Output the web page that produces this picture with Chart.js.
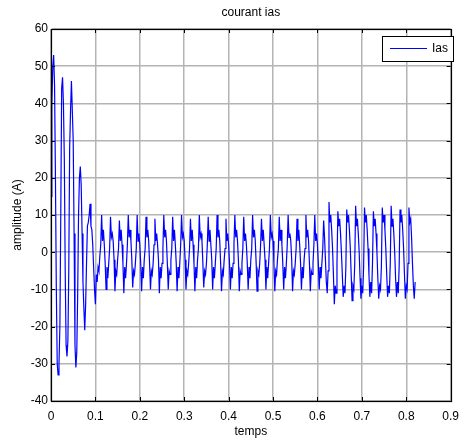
<!DOCTYPE html>
<html>
<head>
<meta charset="utf-8">
<script src="https://cdn.jsdelivr.net/npm/chart.js@4"></script>
<style>
html,body{margin:0;padding:0;background:#fff;}
canvas{display:block;}
</style>
</head>
<body>
<canvas id="c" width="467" height="443"></canvas>
<script>
// sampling step of the recorded current (s)
const sampleStep = 0.002;

// start-up transient, t = 0.000 .. 0.100
const transient = [
  15, 40, 50, 53, 45, 20, -10, -30, -33, -30,
  -20, 10, 44, 47, 40, 25, -5, -25, -28, -24,
  -5, 28, 38, 46, 38, 30, 5, -25, -31, -27,
  -12, 10, 20, 23, 18, 5, -8, -15, -21, -14,
  -3, 7, 8, 10, 13, 7, 6, 2, -4, -10, -14
];

// steady operation, t = 0.102 .. 0.612
const steady = [
  -6, -8, -4, -5, -1, 2,
  10, 3, 6, 2, -3, -10, -4, -7, -3, 1,
  9.5, 4, 5, 3, -2, -10.5, -5, -6, -2, 1,
  8.5, 3, 6, 2, -3, -11, -4, -7, -3, 2,
  10, 4, 6, 3, -2, -9.5, -5, -6, -3, 1,
  10, 3, 5, 2, -3, -10.5, -4, -7, -2, 1,
  9.5, 4, 6, 3, -3, -10, -5, -6, -3, 2,
  9, 3, 5, 2, -2, -11, -4, -7, -3, 1,
  10, 4, 6, 3, -3, -10, -5, -6, -2, 1,
  9.5, 3, 6, 2, -3, -10.5, -4, -7, -3, 2,
  10, 4, 5, 3, -2, -10, -5, -6, -3, 1,
  9, 3, 6, 2, -3, -10.5, -4, -7, -2, 1,
  10, 4, 5, 3, -3, -9.5, -5, -6, -3, 2,
  9.5, 3, 6, 2, -2, -10, -4, -7, -3, 1,
  10, 4, 6, 3, -3, -10.5, -5, -6, -2, 1,
  9, 3, 5, 2, -3, -10, -4, -7, -3, 2,
  10, 4, 6, 3, -2, -10.5, -5, -6, -3, 1,
  9.5, 3, 5, 2, -3, -10, -4, -7, -2, 1,
  10, 4, 6, 3, -3, -10.5, -5, -6, -3, 2,
  9, 3, 6, 2, -2, -10, -4, -7, -3, 1,
  10, 4, 5, 3, -3, -10.5, -5, -6, -2, 1,
  9.5, 3, 6, 2, -3, -10, -4, -7, -3, 2,
  10, 4, 5, 3, -2, -10.5, -5, -6, -3, 1,
  9, 3, 6, 2, -3, -10, -4, -7, -2, 1,
  10, 4, 6, 3, -3, -10.5, -5, -6, -3, 2,
  10, 3, 5, 2, -3, -10, -4, -7, -3, 1
];

// loaded operation, t = 0.614 .. 0.820
const loaded = [
  8.5, 4, -2, -8, -11, -5,
  13.5, 8, 10, 6, 1, -6, -14, -9, -11, -3,
  11, 7, 9, 5, 0, -6, -12, -9, -11, -4,
  11.5, 8, 10, 6, 1, -6, -13, -9, -10, -3,
  12.5, 7, 9, 5, 0, -7, -12.5, -9, -11, -4,
  12, 8, 10, 6, 1, -6, -12, -8, -11, -3,
  11, 7, 9, 5, 0, -7, -12.5, -9, -10, -4,
  12, 8, 10, 6, 1, -6, -12, -9, -11, -3,
  12.5, 7, 9, 5, 0, -7, -12, -8, -11, -4,
  11.5, 8, 10, 6, 1, -6, -12.5, -9, -10, -3,
  12, 8, 9, 4, -3, -9, -12.5, -8
];

const xTicks = [0, 0.1, 0.2, 0.3, 0.4, 0.5, 0.6, 0.7, 0.8, 0.9];
const yTicks = [-40, -30, -20, -10, 0, 10, 20, 30, 40, 50, 60];
const seriesName = 'Ias';
const titleText = 'courant ias';
const xTitle = 'temps';
const yTitle = 'amplitude (A)';

const values = transient.concat(steady, loaded);
const points = values.map((v, i) => ({ x: Math.round(i * sampleStep * 1000) / 1000, y: v }));

const FONT = 'Arial, "Liberation Sans", sans-serif';

const boxPlugin = {
  id: 'matlabBox',
  afterDraw(chart) {
    const ctx = chart.ctx;
    const a = chart.chartArea;
    const xs = chart.scales.x, ys = chart.scales.y;
    ctx.save();
    ctx.strokeStyle = '#000';
    ctx.lineWidth = 1;
    // ticks inside
    ctx.beginPath();
    xTicks.forEach(t => {
      const px = Math.round(xs.getPixelForValue(t)) + 0.5;
      ctx.moveTo(px, a.bottom); ctx.lineTo(px, a.bottom - 4);
      ctx.moveTo(px, a.top); ctx.lineTo(px, a.top + 4);
    });
    yTicks.forEach(t => {
      const py = Math.round(ys.getPixelForValue(t)) + 0.5;
      ctx.moveTo(a.left, py); ctx.lineTo(a.left + 4, py);
      ctx.moveTo(a.right, py); ctx.lineTo(a.right - 4, py);
    });
    ctx.stroke();
    // full box
    ctx.lineWidth = 1.2;
    ctx.strokeRect(Math.round(a.left) + 0.5, Math.round(a.top) + 0.5,
      Math.round(a.right - a.left), Math.round(a.bottom - a.top));
    // title
    ctx.fillStyle = '#000';
    ctx.font = '12px ' + FONT;
    ctx.textAlign = 'center';
    ctx.textBaseline = 'middle';
    ctx.fillText(titleText, (a.left + a.right) / 2, 13);
    // legend
    const lx = 382, ly = 36, lw = 71, lh = 25;
    ctx.fillStyle = '#fff';
    ctx.fillRect(lx, ly, lw, lh);
    ctx.strokeStyle = '#000';
    ctx.lineWidth = 1;
    ctx.strokeRect(lx + 0.5, ly + 0.5, lw, lh);
    ctx.strokeStyle = '#0000ff';
    ctx.beginPath();
    ctx.moveTo(390, ly + 12.5); ctx.lineTo(427, ly + 12.5);
    ctx.stroke();
    ctx.fillStyle = '#000';
    ctx.textAlign = 'left';
    ctx.fillText(seriesName, 432, ly + 13);
    ctx.restore();
  }
};

new Chart(document.getElementById('c'), {
  type: 'line',
  data: {
    datasets: [{
      label: seriesName,
      data: points,
      borderColor: '#0000ff',
      borderWidth: 1.2,
      pointRadius: 0,
      tension: 0,
      fill: false
    }]
  },
  options: {
    responsive: false,
    animation: false,
    events: [],
    layout: { padding: { left: 0, right: 9, top: 29, bottom: 0 } },
    plugins: { legend: { display: false }, title: { display: false }, tooltip: { enabled: false } },
    scales: {
      x: {
        type: 'linear',
        min: 0, max: 0.9,
        afterBuildTicks: s => { s.ticks = xTicks.map(v => ({ value: v })); },
        afterFit: s => { s.height = 42; },
        ticks: {
          color: '#000',
          font: { family: FONT, size: 12 },
          padding: 8,
          maxRotation: 0,
          autoSkip: false,
          callback: v => (v === 0 ? '0' : Number(v).toFixed(1))
        },
        grid: { color: '#b4b4b4', lineWidth: 1.5, drawTicks: false },
        border: { display: true, color: '#000', width: 1 },
        title: { display: true, text: xTitle, color: '#000', font: { family: FONT, size: 12 }, padding: { top: 0, bottom: 4 } }
      },
      y: {
        type: 'linear',
        min: -40, max: 60,
        afterBuildTicks: s => { s.ticks = yTicks.map(v => ({ value: v })); },
        afterFit: s => { s.width = 51; },
        ticks: {
          color: '#000',
          font: { family: FONT, size: 12 },
          padding: 3,
          autoSkip: false,
          callback: v => String(v)
        },
        grid: { color: '#b4b4b4', lineWidth: 1.5, drawTicks: false },
        border: { display: true, color: '#000', width: 1 },
        title: { display: true, text: yTitle, color: '#000', font: { family: FONT, size: 12 }, padding: { top: 10, bottom: 0 } }
      }
    }
  },
  plugins: [boxPlugin]
});
</script>
</body>
</html>
